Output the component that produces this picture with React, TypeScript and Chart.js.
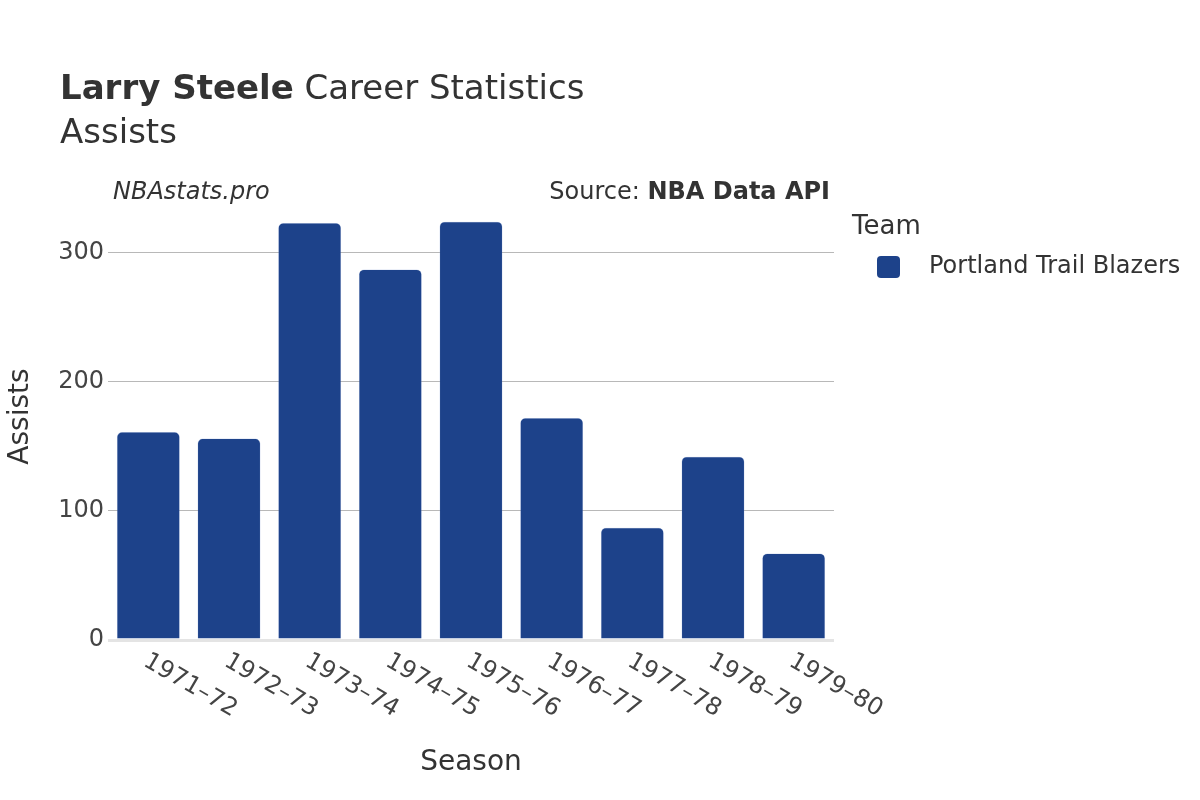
import React, { useEffect, useRef } from "react";
import { Chart, registerables } from "chart.js";

Chart.register(...registerables);

const seasons = ["1971–72", "1972–73", "1973–74", "1974–75", "1975–76", "1976–77", "1977–78", "1978–79", "1979–80"];
const assists = [161, 156, 323, 287, 324, 172, 87, 142, 67];
const yTicks = [0, 100, 200, 300];
const teamName = "Portland Trail Blazers";
const barColor = "rgb(29,66,138)";
const FONT = "'DejaVu Sans', sans-serif";

const textPlugin = {
  id: "textPlugin",
  afterDraw(chart: any) {
    const ctx = chart.ctx;
    const xs = chart.scales.x;
    const area = chart.chartArea;
    ctx.save();
    ctx.fillStyle = "#333";
    ctx.textBaseline = "alphabetic";
    ctx.textAlign = "left";
    // Title
    ctx.font = `bold 34px ${FONT}`;
    ctx.fillText("Larry Steele", 60, 99);
    const w = ctx.measureText("Larry Steele").width;
    ctx.font = `34px ${FONT}`;
    ctx.fillText(" Career Statistics", 60 + w, 99);
    ctx.fillText("Assists", 60, 143);
    // annotations
    ctx.font = `italic 24px ${FONT}`;
    ctx.fillText("NBAstats.pro", 113, 199);
    ctx.textAlign = "right";
    ctx.font = `bold 24px ${FONT}`;
    const bw = ctx.measureText("NBA Data API").width;
    ctx.fillText("NBA Data API", 830, 199);
    ctx.font = `24px ${FONT}`;
    ctx.fillText("Source: ", 830 - bw, 199);
    // axis titles
    ctx.textAlign = "center";
    ctx.font = `28px ${FONT}`;
    ctx.fillText("Season", (area.left + area.right) / 2, 770);
    ctx.save();
    ctx.translate(28, (area.top + area.bottom) / 2 - 4);
    ctx.rotate(-Math.PI / 2);
    ctx.fillText("Assists", 0, 0);
    ctx.restore();
    // x tick labels
    ctx.fillStyle = "#444";
    ctx.font = `24px ${FONT}`;
    ctx.textAlign = "left";
    seasons.forEach((s, i) => {
      const x = xs.getPixelForValue(i);
      ctx.save();
      ctx.translate(x - 6, area.bottom + 25);
      ctx.rotate(Math.PI / 6);
      ctx.fillText(s, 0, 0);
      ctx.restore();
    });
    // legend
    ctx.fillStyle = "#333";
    ctx.font = `26px ${FONT}`;
    ctx.textBaseline = "middle";
    ctx.fillText("Team", 852, 227);
    ctx.fillStyle = barColor;
    ctx.beginPath();
    (ctx as any).roundRect(877, 256, 23, 22, 4);
    ctx.fill();
    ctx.fillStyle = "#333";
    ctx.font = `24px ${FONT}`;
    ctx.fillText(teamName, 929, 267);
    ctx.restore();
  },
};

export default function App() {
  const ref = useRef<HTMLCanvasElement>(null);
  useEffect(() => {
    if (!ref.current) return;
    const chart = new Chart(ref.current, {
      type: "bar",
      data: {
        labels: seasons,
        datasets: [
          {
            label: teamName,
            data: assists,
            backgroundColor: barColor,
            borderColor: "rgba(120,150,210,0.6)",
            borderWidth: 0.5,
            borderRadius: { topLeft: 5, topRight: 5, bottomLeft: 0, bottomRight: 0 },
            borderSkipped: "bottom",
            barPercentage: 0.78,
            categoryPercentage: 1,
          },
        ],
      },
      options: {
        responsive: false,
        animation: false,
        devicePixelRatio: 1,
        layout: { padding: { left: 0, right: 366, top: 201, bottom: 0 } },
        plugins: { legend: { display: false }, title: { display: false }, tooltip: { enabled: false } },
        scales: {
          x: {
            grid: { display: false, drawTicks: false },
            border: { display: false },
            ticks: { display: false },
            afterFit: (s: any) => {
              s.height = 160;
            },
          },
          y: {
            min: 0,
            max: 340,
            afterBuildTicks: (axis: any) => {
              axis.ticks = yTicks.map((v) => ({ value: v }));
            },
            grid: {
              drawTicks: false,
              color: (c: any) => (c.tick && c.tick.value === 0 ? "#e4e4e4" : "#b8b8b8"),
              lineWidth: (c: any) => (c.tick && c.tick.value === 0 ? 3 : 1),
            },
            border: { display: false },
            ticks: {
              font: { family: "'DejaVu Sans', sans-serif", size: 24 },
              color: "#444",
              padding: 4,
            },
            afterFit: (s: any) => {
              s.width = 108;
            },
          },
        },
      },
      plugins: [textPlugin],
    });
    return () => chart.destroy();
  }, []);
  return (
    <div style={{ position: "absolute", left: 0, top: 0, width: 1200, height: 800, background: "#fff" }}>
      <canvas ref={ref} width={1200} height={800} style={{ display: "block", width: 1200, height: 800 }} />
    </div>
  );
}
